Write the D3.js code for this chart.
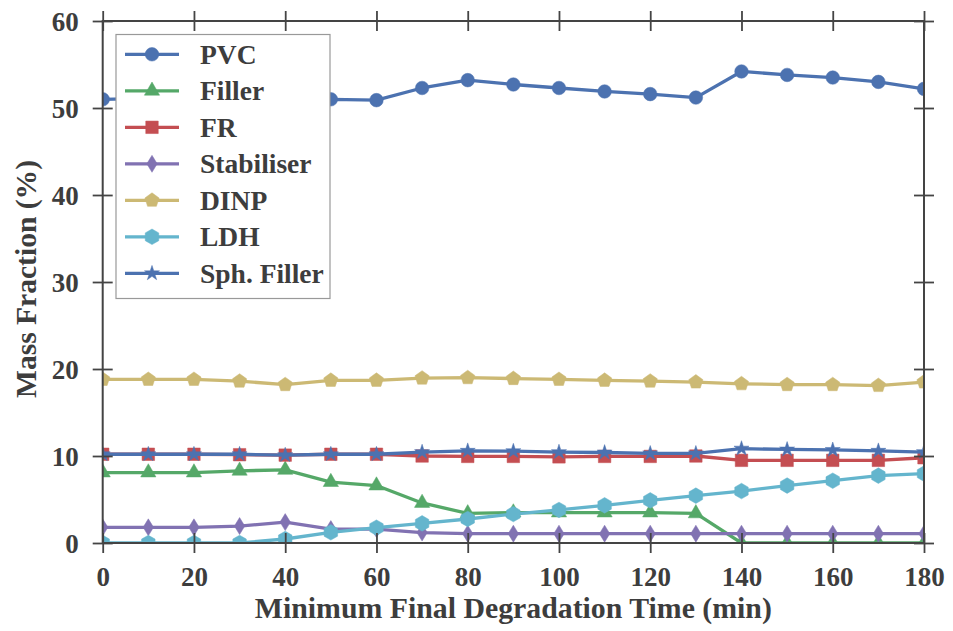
<!DOCTYPE html>
<html><head><meta charset="utf-8">
<script src="https://cdn.jsdelivr.net/npm/d3@7"></script>
<style>
html,body{margin:0;padding:0;background:#fff;}
svg text{font-family:"Liberation Serif","DejaVu Serif",serif;font-weight:bold;fill:#3d3d3d;}
</style></head>
<body>
<svg id="chart" width="953" height="631"></svg>
<script>
const times = [0,10,20,30,40,50,60,70,80,90,100,110,120,130,140,150,160,170,180];
const pvc = [51.0,51.1,51.0,51.0,50.9,51.0,50.9,52.3,53.2,52.7,52.3,51.9,51.6,51.2,54.2,53.8,53.5,53.0,52.2];
const filler = [8.1,8.1,8.1,8.3,8.4,7.0,6.6,4.6,3.4,3.5,3.5,3.5,3.5,3.4,0,0,0,0,0];
const fr = [10.2,10.2,10.2,10.15,10.1,10.2,10.2,10.0,9.95,9.95,9.9,9.95,9.95,10.0,9.5,9.5,9.5,9.5,9.8];
const stabiliser = [1.8,1.8,1.8,1.95,2.4,1.6,1.6,1.2,1.07,1.07,1.07,1.07,1.07,1.07,1.07,1.07,1.07,1.07,1.07];
const dinp = [18.8,18.8,18.8,18.6,18.2,18.7,18.7,18.95,19.0,18.9,18.8,18.7,18.6,18.5,18.3,18.2,18.2,18.1,18.5];
const ldh = [0,0,0,0,0.46,1.23,1.76,2.26,2.76,3.33,3.8,4.33,4.9,5.44,5.97,6.6,7.16,7.74,7.97];
const sphFiller = [10.2,10.2,10.2,10.2,10.1,10.2,10.2,10.45,10.6,10.55,10.45,10.4,10.3,10.3,10.85,10.75,10.7,10.6,10.45];
const seriesNames = ["PVC","Filler","FR","Stabiliser","DINP","LDH","Sph. Filler"];
const seriesColors = ["#4C72B0","#55A868","#C44E52","#8172B2","#CCB974","#64B5CD","#4C72B0"];
const seriesMarkers = ["circle","triangle","square","diamond","pentagon","hexagon","star"];
const xTicks = [0,20,40,60,80,100,120,140,160,180];
const yTicks = [0,10,20,30,40,50,60];
const xLabel = "Minimum Final Degradation Time (min)";
const yLabel = "Mass Fraction (%)";

const seriesValues = [pvc, filler, fr, stabiliser, dinp, ldh, sphFiller];
const series = seriesNames.map((n,i)=>({name:n,color:seriesColors[i],marker:seriesMarkers[i],values:seriesValues[i]}));

const L=102.7, R=924, T=21, B=543;
const svg = d3.select("#chart");
const x = d3.scaleLinear().domain([0,180]).range([L,R]);
const y = d3.scaleLinear().domain([0,60]).range([B,T]);

function poly(n, r, rot){
  const pts=[];
  for(let k=0;k<n;k++){const a=rot+2*Math.PI*k/n; pts.push([r*Math.sin(a), -r*Math.cos(a)]);}
  return "M"+pts.map(p=>p[0].toFixed(2)+","+p[1].toFixed(2)).join("L")+"Z";
}
function markerPath(type){
  switch(type){
    case "circle": return d3.symbol(d3.symbolCircle, Math.PI*6.8*6.8)();
    case "triangle": return poly(3, 8.8, 0);
    case "square": return d3.symbol(d3.symbolSquare, 12.5*12.5)();
    case "diamond": return "M0,-8.5L5.2,0L0,8.5L-5.2,0Z";
    case "pentagon": return poly(5, 7.5, 0);
    case "hexagon": return poly(6, 7.8, 0);
    case "star": return d3.symbol(d3.symbolStar, 70)();
  }
}

svg.append("defs").append("clipPath").attr("id","plotclip")
  .append("rect").attr("x",L).attr("y",T).attr("width",R-L).attr("height",B-T);

const plot = svg.append("g").attr("clip-path","url(#plotclip)");
const line = d3.line().x((d,i)=>x(times[i])).y(d=>y(d));
series.forEach(s=>{
  const g = plot.append("g");
  g.append("path").attr("d",line(s.values)).attr("fill","none")
    .attr("stroke",s.color).attr("stroke-width",3.3).attr("stroke-linejoin","round");
  g.selectAll("path.m").data(s.values).enter().append("path").attr("class","m")
    .attr("d",markerPath(s.marker))
    .attr("transform",(d,i)=>`translate(${x(times[i])},${y(d)})`)
    .attr("fill",s.color).attr("stroke",s.color).attr("stroke-width",0.5);
});

// frame and ticks
const axisColor="#444";
const tk=10;
const axB = d3.axisBottom(x).tickValues(xTicks).tickSizeInner(tk).tickSizeOuter(0).tickPadding(14);
const gB = svg.append("g").attr("transform",`translate(0,${B})`).call(axB);
gB.select(".domain").remove();
gB.selectAll(".tick line").attr("y1",-tk).attr("stroke",axisColor).attr("stroke-width",1.8);
gB.selectAll(".tick text").attr("font-size",27).attr("dy","0.72em").attr("fill","#3d3d3d")
  .style("font-family","'Liberation Serif',serif").style("font-weight","bold");

const gT = svg.append("g").attr("transform",`translate(0,${T})`).call(d3.axisTop(x).tickValues(xTicks).tickSizeInner(tk).tickSizeOuter(0).tickFormat(""));
gT.select(".domain").remove();
gT.selectAll(".tick line").attr("y1",tk).attr("stroke",axisColor).attr("stroke-width",1.8);

const axL = d3.axisLeft(y).tickValues(yTicks).tickSizeInner(tk).tickSizeOuter(0).tickPadding(14);
const gL = svg.append("g").attr("transform",`translate(${L},0)`).call(axL);
gL.select(".domain").remove();
gL.selectAll(".tick line").attr("x1",tk).attr("stroke",axisColor).attr("stroke-width",1.8);
gL.selectAll(".tick text").attr("font-size",27).attr("dy","0.35em").attr("fill","#3d3d3d")
  .style("font-family","'Liberation Serif',serif").style("font-weight","bold");

const gR = svg.append("g").attr("transform",`translate(${R},0)`).call(d3.axisRight(y).tickValues(yTicks).tickSizeInner(tk).tickSizeOuter(0).tickFormat(""));
gR.select(".domain").remove();
gR.selectAll(".tick line").attr("x1",-tk).attr("stroke",axisColor).attr("stroke-width",1.8);

svg.append("rect").attr("x",L).attr("y",T).attr("width",R-L).attr("height",B-T)
  .attr("fill","none").attr("stroke",axisColor).attr("stroke-width",2);

// axis titles
svg.append("text").attr("x",(L+R)/2).attr("y",618).attr("text-anchor","middle")
  .attr("font-size",29).attr("textLength",517).attr("lengthAdjust","spacingAndGlyphs").text(xLabel);
svg.append("text").attr("transform","translate(36,279) rotate(-90)").attr("text-anchor","middle")
  .attr("font-size",29).attr("textLength",238).attr("lengthAdjust","spacingAndGlyphs").text(yLabel);

// legend
const lg = svg.append("g");
lg.append("rect").attr("x",116).attr("y",34.5).attr("width",214).attr("height",264)
  .attr("fill","#fff").attr("stroke","#999").attr("stroke-width",1.2);
series.forEach((s,i)=>{
  const cy = 54.3 + i*36.5;
  lg.append("line").attr("x1",125).attr("x2",179).attr("y1",cy).attr("y2",cy)
    .attr("stroke",s.color).attr("stroke-width",3.3);
  lg.append("path").attr("d",markerPath(s.marker)).attr("transform",`translate(152,${cy})`)
    .attr("fill",s.color).attr("stroke",s.color).attr("stroke-width",0.5);
  lg.append("text").attr("x",200).attr("y",cy).attr("dy","0.35em").attr("font-size",27.5).text(s.name);
});
</script>
</body></html>
